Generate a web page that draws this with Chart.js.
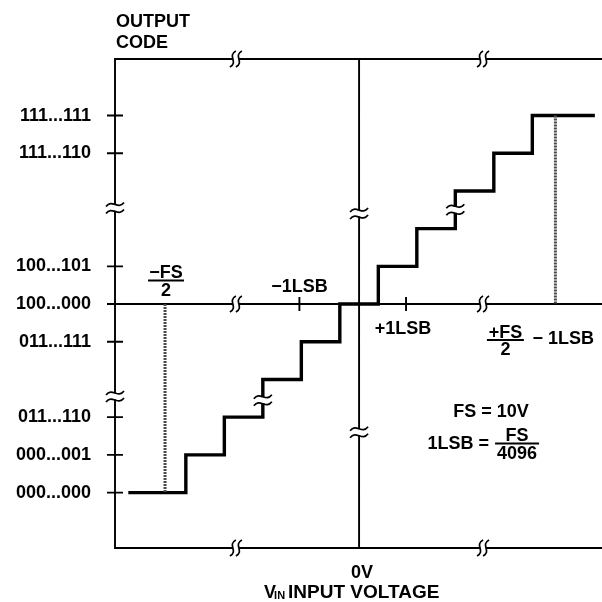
<!DOCTYPE html>
<html lang="en">
<head>
<meta charset="UTF-8">
<title>ADC Transfer Function</title>
<style>
  body { margin: 0; background: #fff; }
  canvas { display: block; }
</style>
<script src="https://cdn.jsdelivr.net/npm/chart.js"></script>
</head>
<body>
<canvas id="transfer" width="602" height="602"></canvas>
<script>
// output codes on the left axis, in LSB steps from mid-scale
const codeTicks = [5, 4, 1, 0, -1, -3, -4, -5];
const codeLabels = ['111...111', '111...110', '100...101', '100...000', '011...111', '011...110', '000...001', '000...000'];

// staircase: input (LSB) where each code starts, and that code
const stepX = [-5.95, -4.5, -3.5, -2.5, -1.5, -0.5, 0.5, 1.5, 2.5, 3.5, 4.5, 6.08];
const stepCode = [-5, -4, -3, -2, -1, 0, 1, 2, 3, 4, 5, 5];

// dotted full-scale markers
const negFsX = -5.04;
const posFsX = 5.1;

// -1LSB / +1LSB ticks on the mid-scale axis
const lsbTicks = [-1.55, 1.22];

// axis ranges
const xRange = [-6.34, 6.31];
const yRange = [-6.47, 6.5];

// break marks
const hBreaks = [-3.2, 3.22];        // on the three horizontal lines
const leftBreaks = [2.55, -2.45];    // on the left axis
const midBreaks = [2.4, -3.4];       // on the 0V axis
const stairBreaks = [[-2.5, -2.55], [2.5, 2.5]];

const FONT = '"Liberation Sans", Arial, sans-serif';
Chart.defaults.font.family = FONT;
Chart.defaults.font.size = 18;
Chart.defaults.font.weight = 'bold';
Chart.defaults.color = '#000';

function hBreak(ctx, cx, cy) {
    ctx.fillStyle = '#fff';
    ctx.fillRect(cx - 3, cy - 2, 6, 4);
    [-3, 3].forEach(d => {
        const bx = cx + d;
        ctx.beginPath();
        ctx.moveTo(bx + 3, cy - 8);
        ctx.bezierCurveTo(bx - 6, cy - 3, bx + 6, cy + 3, bx - 3, cy + 8);
        ctx.stroke();
    });
}

function vBreak(ctx, cx, cy, gapW) {
    ctx.fillStyle = '#fff';
    ctx.fillRect(cx - gapW, cy - 3, gapW * 2, 6);
    [-3.5, 3.5].forEach(d => {
        const by = cy + d;
        ctx.beginPath();
        ctx.moveTo(cx - 9, by + 2);
        ctx.bezierCurveTo(cx - 3, by - 6, cx + 3, by + 6, cx + 9, by - 2);
        ctx.stroke();
    });
}

function frac(ctx, num, den, cx, lineY, w) {
    ctx.textAlign = 'center';
    ctx.textBaseline = 'alphabetic';
    ctx.fillText(num, cx, lineY - 2.5);
    ctx.fillText(den, cx, lineY + 15);
    ctx.beginPath();
    ctx.moveTo(cx - w / 2, lineY);
    ctx.lineTo(cx + w / 2, lineY);
    ctx.stroke();
}

const diagram = {
    id: 'diagram',
    beforeDatasetsDraw(chart) {
        const { ctx, chartArea: a, scales: { x, y } } = chart;
        const x0 = x.getPixelForValue(0), y0 = y.getPixelForValue(0);
        ctx.save();
        ctx.strokeStyle = '#000';
        ctx.lineWidth = 1.9;
        ctx.beginPath();
        ctx.moveTo(a.right, a.top); ctx.lineTo(a.left, a.top);
        ctx.lineTo(a.left, a.bottom); ctx.lineTo(a.right, a.bottom);
        ctx.moveTo(x0, a.top); ctx.lineTo(x0, a.bottom);
        ctx.moveTo(a.left, y0); ctx.lineTo(a.right, y0);
        codeTicks.forEach(v => {
            const py = y.getPixelForValue(v);
            ctx.moveTo(a.left - 8, py); ctx.lineTo(a.left + 8, py);
        });
        lsbTicks.forEach(v => {
            const px = x.getPixelForValue(v);
            ctx.moveTo(px, y0 - 7); ctx.lineTo(px, y0 + 7);
        });
        ctx.stroke();
        ctx.restore();
    },
    afterDatasetsDraw(chart) {
        const { ctx, chartArea: a, scales: { x, y } } = chart;
        const x0 = x.getPixelForValue(0), y0 = y.getPixelForValue(0);
        ctx.save();
        ctx.strokeStyle = '#000';
        ctx.lineWidth = 1.7;

        // breaks on the axes
        hBreaks.forEach(v => {
            const px = x.getPixelForValue(v);
            [a.top, y0, a.bottom].forEach(py => hBreak(ctx, px, py));
        });
        leftBreaks.forEach(v => vBreak(ctx, a.left, y.getPixelForValue(v), 2));
        midBreaks.forEach(v => vBreak(ctx, x0, y.getPixelForValue(v), 2));
        stairBreaks.forEach(([bx, by]) => vBreak(ctx, x.getPixelForValue(bx), y.getPixelForValue(by), 3));

        // labels
        ctx.fillStyle = '#000';
        ctx.font = 'bold 18px ' + FONT;
        ctx.textAlign = 'left';
        ctx.textBaseline = 'alphabetic';
        ctx.fillText('OUTPUT', a.left + 1, a.top - 32);
        ctx.fillText('CODE', a.left + 1, a.top - 11);

        ctx.lineWidth = 2;
        frac(ctx, '\u2212FS', '2', x.getPixelForValue(negFsX) + 1, y0 - 23.5, 36);
        ctx.textAlign = 'center';
        ctx.fillText('\u22121LSB', x.getPixelForValue(lsbTicks[0]), y0 - 12);
        ctx.fillText('+1LSB', x.getPixelForValue(lsbTicks[1]) - 3, y0 + 30);

        const pf = x.getPixelForValue(posFsX);
        frac(ctx, '+FS', '2', pf - 50, y0 + 36, 37);
        ctx.textAlign = 'left';
        ctx.fillText('\u2212 1LSB', pf - 23, y0 + 40);

        ctx.textAlign = 'center';
        ctx.fillText('FS = 10V', x0 + 132, y0 + 113);
        ctx.textAlign = 'right';
        ctx.fillText('1LSB =', x0 + 130, y0 + 145);
        frac(ctx, 'FS', '4096', x0 + 158, y0 + 139.5, 44);

        ctx.textAlign = 'center';
        ctx.fillText('0V', x0 + 3, a.bottom + 30);

        // V_IN INPUT VOLTAGE
        ctx.textAlign = 'left';
        ctx.fillText('V', x0 - 95, a.bottom + 50);
        ctx.font = 'bold 11px ' + FONT;
        ctx.fillText('IN', x0 - 85, a.bottom + 51);
        ctx.font = 'bold 19px ' + FONT;
        ctx.fillText('INPUT VOLTAGE', x0 - 71, a.bottom + 50);
        ctx.restore();
    }
};

const stairData = stepX.map((v, i) => ({ x: v, y: stepCode[i] }));
const negFsData = [{ x: negFsX, y: 0 }, { x: negFsX, y: stepCode[0] }];
const posFsData = [{ x: posFsX, y: stepCode[stepCode.length - 1] }, { x: posFsX, y: 0 }];

new Chart(document.getElementById('transfer').getContext('2d'), {
    type: 'scatter',
    data: {
        datasets: [
            {
                data: negFsData, showLine: true, borderColor: '#4a4a4a',
                borderWidth: 3, borderDash: [2, 1], pointRadius: 0
            },
            {
                data: posFsData, showLine: true, borderColor: '#4a4a4a',
                borderWidth: 3, borderDash: [2, 1], pointRadius: 0
            },
            {
                data: stairData, showLine: true, stepped: 'before', borderColor: '#000',
                borderWidth: 3.4, pointRadius: 0, borderCapStyle: 'square'
            }
        ]
    },
    options: {
        responsive: false,
        animation: false,
        layout: { padding: { top: 59, right: 0, left: 0, bottom: 0 } },
        plugins: { legend: { display: false }, tooltip: { enabled: false } },
        scales: {
            x: {
                type: 'linear', min: xRange[0], max: xRange[1],
                grid: { display: false }, border: { display: false },
                ticks: { display: false },
                afterFit(scale) { scale.height = 54; }
            },
            y: {
                type: 'linear', min: yRange[0], max: yRange[1],
                grid: { display: false, drawTicks: false }, border: { display: false },
                afterBuildTicks(scale) { scale.ticks = codeTicks.map(v => ({ value: v })); },
                ticks: {
                    padding: 24,
                    callback: v => codeLabels[codeTicks.indexOf(v)],
                    font: { size: 18, weight: 'bold' }
                },
                afterFit(scale) { scale.width = 115; }
            }
        }
    },
    plugins: [diagram]
});
</script>
</body>
</html>
